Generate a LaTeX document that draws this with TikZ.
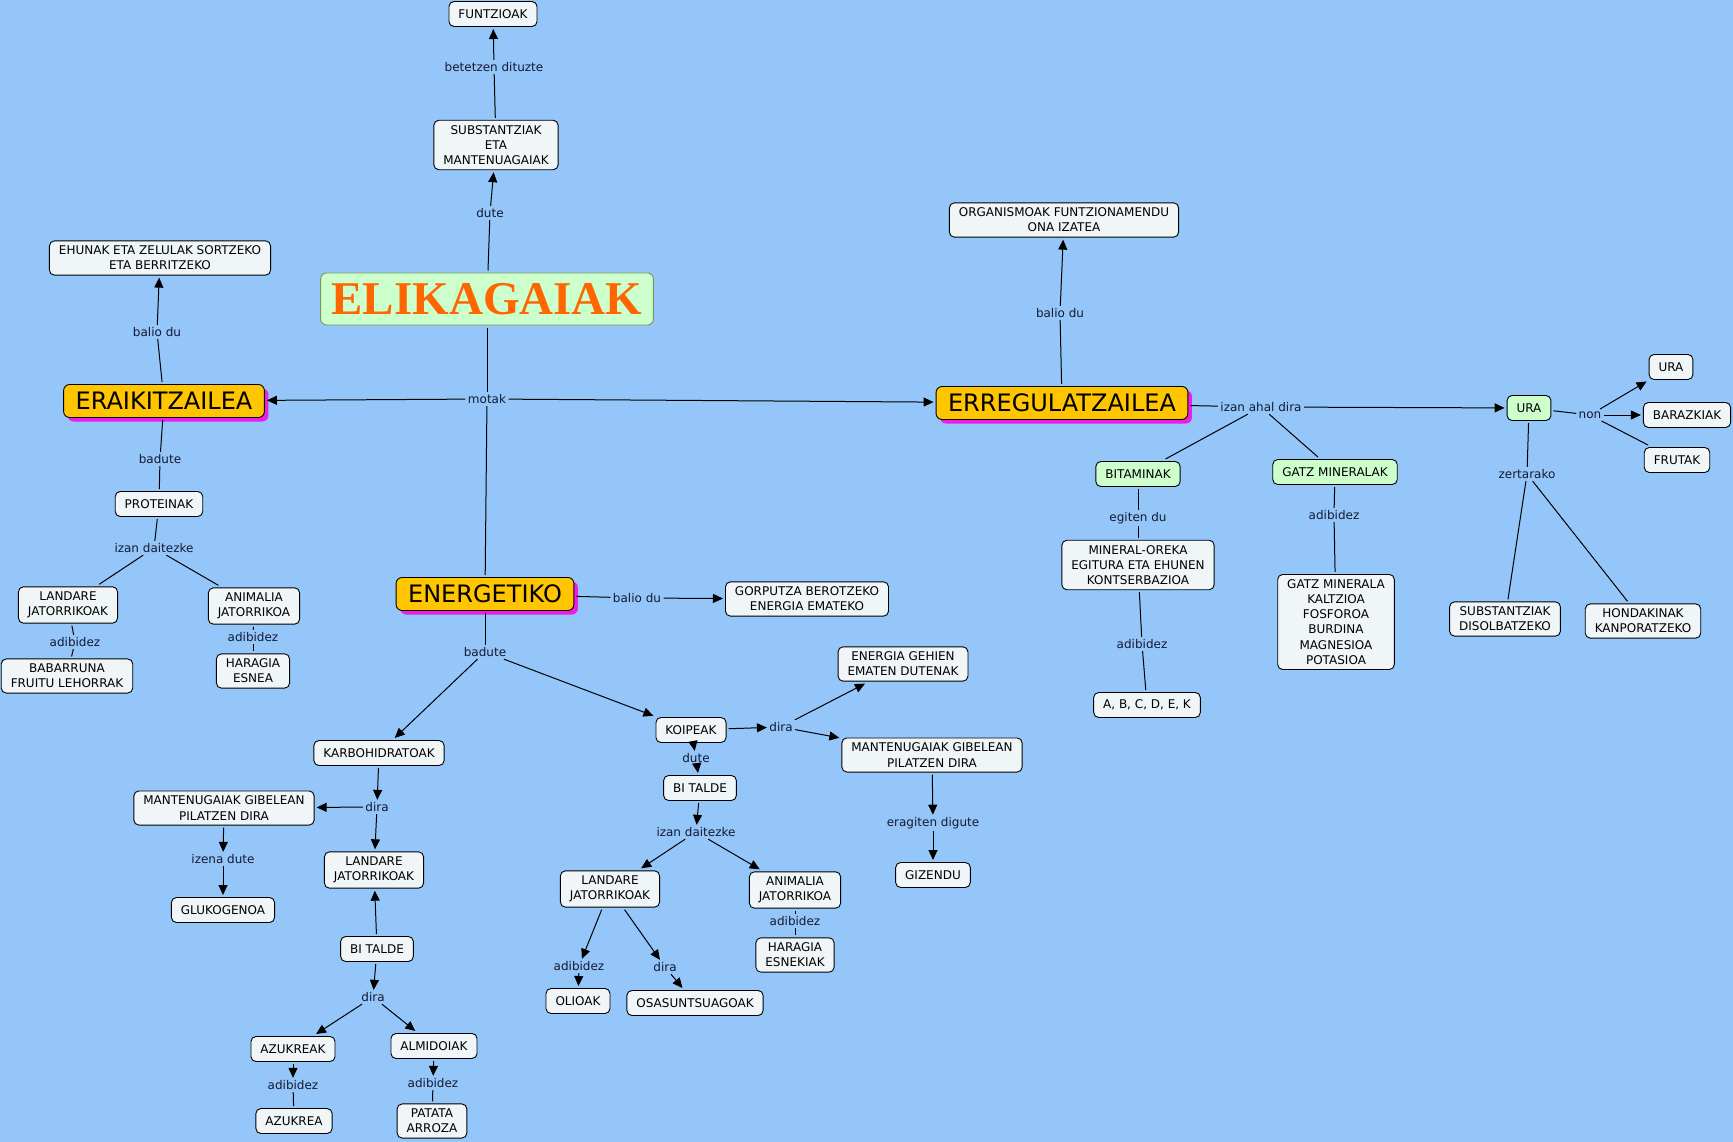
\documentclass[tikz,border=0pt]{standalone}
\usepackage{fontspec}
\setmainfont{DejaVu Sans}
\newfontfamily\titlefont{Liberation Serif}
\usetikzlibrary{arrows.meta,shadows}

\definecolor{bgblue}{RGB}{148,198,250}
\definecolor{boxfill}{RGB}{240,245,247}
\definecolor{goldbox}{RGB}{255,198,0}
\definecolor{shadowpink}{RGB}{235,30,230}
\definecolor{mint}{RGB}{204,255,204}
\definecolor{titleorange}{RGB}{255,102,0}
\definecolor{olivebd}{RGB}{120,150,80}
\definecolor{linktext}{RGB}{20,25,50}

\begin{document}
\begin{tikzpicture}[x=1pt, y=-1pt, line width=1pt,
    cpt/.style={draw, line width=0.9pt, rounded corners=5pt, fill=boxfill, align=center, font=\fontsize{12}{15.2}\selectfont, inner xsep=9.5pt, inner ysep=5pt, minimum height=25pt, outer sep=2.5pt},
    greencpt/.style={cpt, fill=mint},
    bigcpt/.style={draw, line width=0.9pt, rounded corners=6pt, fill=goldbox, font=\fontsize{24}{28}\selectfont, inner xsep=12pt, inner ysep=2pt, minimum height=33pt, outer sep=2.5pt, general shadow={fill=shadowpink, shadow xshift=4pt, shadow yshift=-4pt}},
    lbl/.style={font=\fontsize{12}{14}\selectfont, text=linktext, inner sep=2pt},
    arr/.style={-{Triangle[length=10pt,width=9pt]}}
]
\fill[bgblue] (0,0) rectangle (1733,1142);
\useasboundingbox (0,0) rectangle (1733,1142);

% main concept
\node[draw=olivebd, line width=0.9pt, fill=mint, rounded corners=6pt, text=titleorange, font=\titlefont\bfseries\fontsize{47}{50}\selectfont, inner xsep=11pt, inner ysep=0pt, minimum height=52pt, outer sep=2.5pt] (eli) at (487,299) {ELIKAGAIAK};
\node[cpt] (subst) at (496,145) {SUBSTANTZIAK\\ETA\\MANTENUAGAIAK};
\node[cpt] (funtz) at (493,14) {FUNTZIOAK};
\node[lbl] (lDute) at (490,213) {dute};
\node[lbl] (lBetetzen) at (494,67) {betetzen dituzte};
\node[lbl] (lMotak) at (487,399) {motak};

% eraikitzailea
\node[bigcpt] (erai) at (164,401) {ERAIKITZAILEA};
\node[cpt] (ehunak) at (160,258) {EHUNAK ETA ZELULAK SORTZEKO\\ETA BERRITZEKO};
\node[lbl] (lBalioEra) at (157,332) {balio du};
\node[lbl] (lBaduteEra) at (160,459) {badute};
\node[cpt] (prot) at (159,504) {PROTEINAK};
\node[lbl] (lIzanProt) at (154,548) {izan daitezke};
\node[cpt] (landP) at (68,605) {LANDARE\\JATORRIKOAK};
\node[cpt] (animP) at (254,606) {ANIMALIA\\JATORRIKOA};
\node[lbl] (lAdibLandP) at (75,642) {adibidez};
\node[cpt] (babar) at (67,676) {BABARRUNA\\FRUITU LEHORRAK};
\node[lbl] (lAdibAnimP) at (253,637) {adibidez};
\node[cpt] (haragiP) at (253,671) {HARAGIA\\ESNEA};

% erregulatzailea
\node[bigcpt] (erreg) at (1062,403) {ERREGULATZAILEA};
\node[cpt] (organ) at (1064,220) {ORGANISMOAK FUNTZIONAMENDU\\ONA IZATEA};
\node[lbl] (lBalioErr) at (1060,313) {balio du};
\node[lbl] (lIzanAhal) at (1261,407) {izan ahal dira};
\node[greencpt] (ura) at (1529,408) {URA};
\node[lbl] (lNon) at (1590,415) {non};
\node[cpt] (ura2) at (1671,367) {URA};
\node[cpt] (baraz) at (1687,415) {BARAZKIAK};
\node[cpt] (frutak) at (1677,460) {FRUTAK};
\node[lbl] (lZertarako) at (1527,474) {zertarako};
\node[cpt] (disol) at (1505,619) {SUBSTANTZIAK\\DISOLBATZEKO};
\node[cpt] (hondak) at (1643,621) {HONDAKINAK\\KANPORATZEKO};
\node[greencpt] (bitam) at (1138,474) {BITAMINAK};
\node[greencpt] (gatz) at (1335,472) {GATZ MINERALAK};
\node[lbl] (lEgiten) at (1138,518) {egiten du};
\node[cpt] (mineral) at (1138,565) {MINERAL-OREKA\\EGITURA ETA EHUNEN\\KONTSERBAZIOA};
\node[lbl] (lAdibBit) at (1142,644) {adibidez};
\node[cpt] (abc) at (1147,705) {A, B, C, D, E, K};
\node[lbl] (lAdibGatz) at (1334,515) {adibidez};
\node[cpt] (gatzMin) at (1336,622) {GATZ MINERALA\\KALTZIOA\\FOSFOROA\\BURDINA\\MAGNESIOA\\POTASIOA};

% energetiko
\node[bigcpt] (ener) at (485,594) {ENERGETIKO};
\node[lbl] (lBalioEne) at (637,598) {balio du};
\node[cpt] (gorputz) at (807,599) {GORPUTZA BEROTZEKO\\ENERGIA EMATEKO};
\node[lbl] (lBaduteEne) at (485,652) {badute};

% karbohidratoak
\node[cpt] (karbo) at (379,753) {KARBOHIDRATOAK};
\node[lbl] (lDiraK) at (377,807) {dira};
\node[cpt] (mantK) at (224,808) {MANTENUGAIAK GIBELEAN\\PILATZEN DIRA};
\node[lbl] (lIzena) at (223,859) {izena dute};
\node[cpt] (gluko) at (223,910) {GLUKOGENOA};
\node[cpt] (landK) at (374,870) {LANDARE\\JATORRIKOAK};
\node[cpt] (biK) at (377,949) {BI TALDE};
\node[lbl] (lDiraBi) at (373,997) {dira};
\node[cpt] (azuk) at (293,1049) {AZUKREAK};
\node[cpt] (almid) at (434,1046) {ALMIDOIAK};
\node[lbl] (lAdibAz) at (293,1085) {adibidez};
\node[cpt] (azukrea) at (294,1121) {AZUKREA};
\node[lbl] (lAdibAl) at (433,1083) {adibidez};
\node[cpt] (patata) at (432,1121) {PATATA\\ARROZA};

% koipeak
\node[cpt] (koip) at (691,730) {KOIPEAK};
\node[lbl] (lDiraKoip) at (781,727) {dira};
\node[cpt] (energia) at (903,664) {ENERGIA GEHIEN\\EMATEN DUTENAK};
\node[cpt] (mantKoip) at (932,755) {MANTENUGAIAK GIBELEAN\\PILATZEN DIRA};
\node[lbl] (lEragiten) at (933,823) {eragiten digute};
\node[cpt] (gizendu) at (933,875) {GIZENDU};
\node[lbl] (lDuteKoip) at (696,758) {dute};
\node[cpt] (biKoip) at (700,788) {BI TALDE};
\node[lbl] (lIzanKoip) at (696,832) {izan daitezke};
\node[cpt] (landKoip) at (610,889) {LANDARE\\JATORRIKOAK};
\node[cpt] (animKoip) at (795,890) {ANIMALIA\\JATORRIKOA};
\node[lbl] (lAdibAnK) at (795,921) {adibidez};
\node[cpt] (haragiK) at (795,955) {HARAGIA\\ESNEKIAK};
\node[lbl] (lAdibLaK) at (579,966) {adibidez};
\node[lbl] (lDiraLaK) at (665,967) {dira};
\node[cpt] (olio) at (578,1001) {OLIOAK};
\node[cpt] (osasun) at (695,1003) {OSASUNTSUAGOAK};

% links
\draw (eli) -- (lDute);
\draw[arr] (lDute) -- (subst);
\draw (subst) -- (lBetetzen);
\draw[arr] (lBetetzen) -- (funtz);
\draw (eli) -- (lMotak);
\draw[arr] (lMotak) -- (erai);
\draw[arr] (lMotak) -- (erreg);
\draw (lMotak) -- (ener);

\draw (erai) -- (lBalioEra);
\draw[arr] (lBalioEra) -- (ehunak);
\draw (erai) -- (lBaduteEra);
\draw (lBaduteEra) -- (prot);
\draw (prot) -- (lIzanProt);
\draw (lIzanProt) -- (landP);
\draw (lIzanProt) -- (animP);
\draw (landP) -- (lAdibLandP);
\draw (lAdibLandP) -- (babar);
\draw (animP) -- (lAdibAnimP);
\draw (lAdibAnimP) -- (haragiP);

\draw (erreg) -- (lBalioErr);
\draw[arr] (lBalioErr) -- (organ);
\draw (erreg) -- (lIzanAhal);
\draw[arr] (lIzanAhal) -- (ura);
\draw (lIzanAhal) -- (bitam);
\draw (lIzanAhal) -- (gatz);
\draw (ura) -- (lNon);
\draw[arr] (lNon) -- (ura2);
\draw[arr] (lNon) -- (baraz);
\draw (lNon) -- (frutak);
\draw (ura) -- (lZertarako);
\draw (lZertarako) -- (disol);
\draw (lZertarako) -- (hondak);
\draw (bitam) -- (lEgiten);
\draw (lEgiten) -- (mineral);
\draw (mineral) -- (lAdibBit);
\draw (lAdibBit) -- (abc);
\draw (gatz) -- (lAdibGatz);
\draw (lAdibGatz) -- (gatzMin);

\draw (ener) -- (lBalioEne);
\draw[arr] (lBalioEne) -- (gorputz);
\draw (ener) -- (lBaduteEne);
\draw[arr] (lBaduteEne) -- (karbo);
\draw[arr] (lBaduteEne) -- (koip);

\draw[arr] (karbo) -- (lDiraK);
\draw[arr] (lDiraK) -- (mantK);
\draw[arr] (lDiraK) -- (landK);
\draw[arr] (mantK) -- (lIzena);
\draw[arr] (lIzena) -- (gluko);
\draw[arr] (biK) -- (landK);
\draw[arr] (biK) -- (lDiraBi);
\draw[arr] (lDiraBi) -- (azuk);
\draw[arr] (lDiraBi) -- (almid);
\draw[arr] (azuk) -- (lAdibAz);
\draw (lAdibAz) -- (azukrea);
\draw[arr] (almid) -- (lAdibAl);
\draw (lAdibAl) -- (patata);

\draw[arr] (koip) -- (lDiraKoip);
\draw[arr] (lDiraKoip) -- (energia);
\draw[arr] (lDiraKoip) -- (mantKoip);
\draw[arr] (mantKoip) -- (lEragiten);
\draw[arr] (lEragiten) -- (gizendu);
\draw[arr] (koip) -- (lDuteKoip);
\draw[arr] (lDuteKoip) -- (biKoip);
\draw[arr] (biKoip) -- (lIzanKoip);
\draw[arr] (lIzanKoip) -- (landKoip);
\draw[arr] (lIzanKoip) -- (animKoip);
\draw[arr] (landKoip) -- (lAdibLaK);
\draw[arr] (lAdibLaK) -- (olio);
\draw[arr] (landKoip) -- (lDiraLaK);
\draw[arr] (lDiraLaK) -- (osasun);
\draw (animKoip) -- (lAdibAnK);
\draw (lAdibAnK) -- (haragiK);
\end{tikzpicture}
\end{document}
